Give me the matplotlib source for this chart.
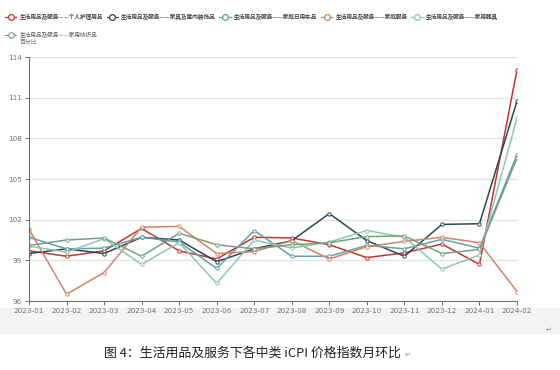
import matplotlib
matplotlib.use("Agg")
import matplotlib.pyplot as plt
from matplotlib.lines import Line2D
from matplotlib.patches import Rectangle

plt.rcParams['font.family'] = ['Noto Sans CJK SC', 'DejaVu Sans']

months = ['2023-01', '2023-02', '2023-03', '2023-04', '2023-05', '2023-06', '2023-07',
          '2023-08', '2023-09', '2023-10', '2023-11', '2023-12', '2024-01', '2024-02']

names = ['生活用品及服务——个人护理用品', '生活用品及服务——家具及室内装饰品',
         '生活用品及服务——家庭日用杂品', '生活用品及服务——家庭服务',
         '生活用品及服务——家用器具', '生活用品及服务——家用纺织品']

personal = [99.7, 99.3, 99.7, 101.35, 99.7, 99.1, 100.7, 100.65, 100.15, 99.2, 99.55, 100.2, 98.7, 113.05]
furniture = [99.5, 99.85, 99.5, 100.7, 100.5, 98.9, 99.85, 100.45, 102.45, 100.45, 99.3, 101.65, 101.7, 110.75]
sundries = [100.7, 99.85, 99.9, 100.7, 100.35, 98.4, 101.2, 99.3, 99.3, 100.1, 99.85, 100.55, 99.9, 106.8]
services = [101.3, 96.5, 98.1, 101.45, 101.5, 99.5, 99.65, 100.45, 99.1, 100.0, 100.4, 100.7, 100.3, 96.7]
appliances = [100.05, 99.6, 100.6, 98.7, 100.3, 97.3, 100.5, 99.9, 100.35, 101.2, 100.7, 98.35, 99.4, 109.5]
textiles = [100.1, 100.5, 100.65, 99.3, 101.0, 100.15, 99.85, 100.15, 100.3, 100.75, 100.8, 99.5, 99.8, 106.55]

series = [personal, furniture, sundries, services, appliances, textiles]
colors = ['#c23531', '#2f4554', '#61a0a8', '#d48265', '#91c7ae', '#749f83']

fig = plt.figure(figsize=(5.6, 3.7), dpi=100)
ax = fig.add_axes([29 / 560, 1 - 301 / 370, 488 / 560, 244 / 370])

x = list(range(len(months)))
for vals, c in zip(series, colors):
    ax.plot(x, vals, color=c, lw=1.1, marker='o', ms=2.4, mfc='white', mec=c, mew=0.7)

ax.set_xlim(0, len(months) - 1)
ax.set_ylim(96, 114)
ax.set_yticks([96, 99, 102, 105, 108, 111, 114])
ax.set_xticks(x)
ax.set_xticklabels(months)
ax.grid(axis='y', color='#e0e0e0', lw=0.9)
ax.set_axisbelow(True)
for s in ['top', 'right']:
    ax.spines[s].set_visible(False)
for s in ['left', 'bottom']:
    ax.spines[s].set_color('#6e7079')
    ax.spines[s].set_linewidth(0.8)
ax.tick_params(colors='#6e7079', labelsize=5.2, length=3, width=0.7, pad=2)
for lab in ax.get_xticklabels() + ax.get_yticklabels():
    lab.set_family(['Liberation Sans Narrow', 'DejaVu Sans'])

# legend: first row of five, second row with the last item
handles = [Line2D([], [], color=c, lw=0.8, marker='o', ms=4, mfc='white', mec=c, mew=0.8) for c in colors]
leg_kw = dict(loc='center left', frameon=False, fontsize=4.1, labelcolor='#555555',
              handlelength=2.0, handletextpad=0.5, columnspacing=0.7, borderaxespad=0, borderpad=0)
leg1 = fig.legend(handles[:5], names[:5], ncol=5, bbox_to_anchor=(5 / 560, 1 - 17 / 370), **leg_kw)
fig.legend(handles[5:], names[5:], ncol=1, bbox_to_anchor=(5 / 560, 1 - 35 / 370), **leg_kw)
fig.add_artist(leg1)

fig.text(20 / 560, 1 - 42 / 370, '百分比', fontsize=4.2, color='#6e7079', va='center')

# bottom band and caption
fig.patches.append(Rectangle((0, 1 - 333 / 370), 1, 25 / 370, transform=fig.transFigure,
                             color='#f3f3f3', zorder=-5))
fig.text(253 / 560, 1 - 353 / 370, '图 4：生活用品及服务下各中类 iCPI 价格指数月环比',
         fontsize=9.3, color='#222222', ha='center', va='center')
fig.text(405 / 560, 1 - 355 / 370, '↵', fontsize=5, color='#888888', va='center',
         family='DejaVu Sans')
fig.text(546 / 560, 1 - 330 / 370, '↵', fontsize=5, color='#888888', va='center',
         family='DejaVu Sans')

fig.savefig('out.png', dpi=100)
